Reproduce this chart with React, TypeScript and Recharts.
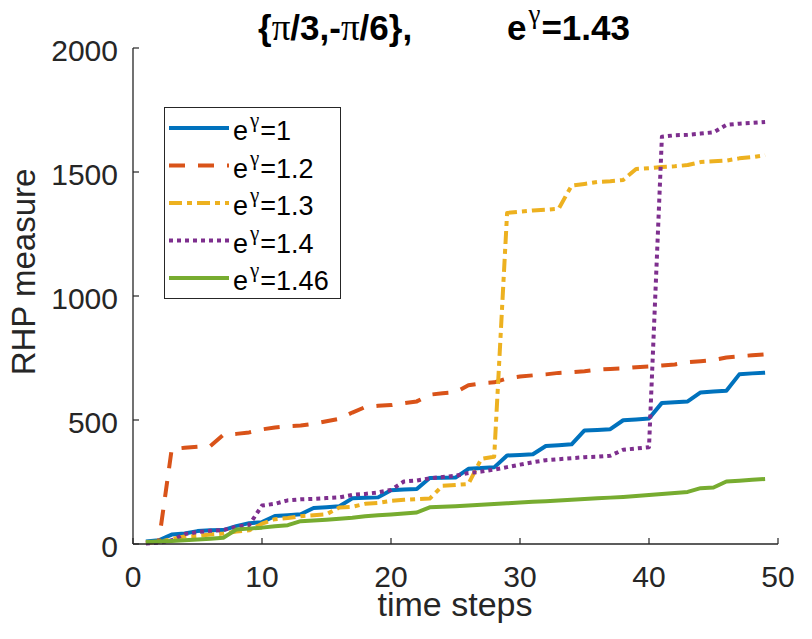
import React from 'react'
import { LineChart, Line, XAxis, YAxis, Legend } from 'recharts'

const steps = [1, 2, 3, 4, 5, 6, 7, 8, 9, 10, 11, 12, 13, 14, 15, 16, 17, 18, 19, 20, 21, 22, 23, 24, 25, 26, 27, 28, 29, 30, 31, 32, 33, 34, 35, 36, 37, 38, 39, 40, 41, 42, 43, 44, 45, 46, 47, 48, 49]

const g100 = [10, 15, 38, 42, 52, 55, 56, 72, 84, 88, 113, 116, 120, 145, 148, 152, 184, 186, 188, 217, 220, 222, 266, 267, 268, 303, 306, 309, 357, 359, 362, 395, 398, 402, 458, 460, 463, 499, 502, 506, 569, 572, 575, 611, 615, 618, 684, 688, 691]
const g120 = [5, 10, 382, 388, 392, 395, 440, 444, 450, 462, 470, 475, 478, 485, 495, 505, 530, 552, 557, 560, 568, 575, 602, 608, 612, 640, 648, 652, 668, 675, 680, 684, 690, 693, 697, 703, 706, 708, 713, 716, 720, 724, 733, 737, 742, 752, 757, 761, 765]
const g130 = [5, 8, 20, 30, 33, 38, 42, 50, 55, 82, 100, 105, 112, 116, 120, 147, 150, 162, 166, 174, 178, 181, 183, 235, 238, 242, 343, 352, 1335, 1340, 1345, 1348, 1352, 1445, 1452, 1460, 1463, 1468, 1512, 1515, 1520, 1523, 1528, 1540, 1543, 1546, 1555, 1560, 1568]
const g140 = [2, 5, 15, 40, 48, 53, 56, 70, 76, 155, 162, 176, 180, 182, 185, 188, 198, 202, 208, 218, 252, 256, 265, 270, 275, 286, 292, 300, 310, 320, 330, 338, 342, 346, 350, 352, 356, 380, 385, 390, 1642, 1648, 1650, 1655, 1660, 1690, 1695, 1698, 1702]
const g146 = [8, 10, 12, 15, 18, 21, 25, 58, 62, 66, 72, 76, 92, 95, 98, 102, 106, 112, 116, 119, 123, 127, 148, 150, 152, 155, 158, 161, 164, 167, 170, 172, 175, 178, 181, 184, 187, 190, 194, 198, 202, 206, 210, 225, 228, 252, 255, 259, 262]

const xTicks = [0, 10, 20, 30, 40, 50]
const yTicks = [0, 500, 1000, 1500, 2000]

const series = [
  { key: 'g100', label: '1', color: '#0072BD', dash: undefined },
  { key: 'g120', label: '1.2', color: '#D95319', dash: '16 13' },
  { key: 'g130', label: '1.3', color: '#EDB120', dash: '13 5 5 5' },
  { key: 'g140', label: '1.4', color: '#7E2F8E', dash: '4 4' },
  { key: 'g146', label: '1.46', color: '#77AC30', dash: undefined },
]

const data = steps.map((t, i) => ({
  t,
  g100: g100[i],
  g120: g120[i],
  g130: g130[i],
  g140: g140[i],
  g146: g146[i],
}))

const axisColor = '#262626'
const sans = '"Liberation Sans", Arial, Helvetica, sans-serif'
const serif = '"Liberation Serif", "Times New Roman", serif'
const TICK = 6

const BottomTick = (props: any) => {
  const { x, y, payload } = props
  return (
    <g>
      <line x1={x} x2={x} y1={y} y2={y - TICK} stroke={axisColor} strokeWidth={1.2} />
      <text x={x} y={y + 43} textAnchor="middle" fontSize={30} fontFamily={sans} fill={axisColor}>
        {payload.value}
      </text>
    </g>
  )
}

const TopTick = (props: any) => {
  const { x, y } = props
  return <line x1={x} x2={x} y1={y} y2={y + TICK} stroke={axisColor} strokeWidth={1.2} />
}

const LeftTick = (props: any) => {
  const { x, y, payload } = props
  return (
    <g>
      <line x1={x} x2={x + TICK} y1={y} y2={y} stroke={axisColor} strokeWidth={1.2} />
      <text x={x - 15} y={y + 13} textAnchor="end" fontSize={30} fontFamily={sans} fill={axisColor}>
        {payload.value}
      </text>
    </g>
  )
}

const RightTick = (props: any) => {
  const { x, y } = props
  return <line x1={x} x2={x - TICK} y1={y} y2={y} stroke={axisColor} strokeWidth={1.2} />
}

const MatlabLegend = () => (
  <svg width={177} height={192} style={{ display: 'block' }}>
    <rect x={0.5} y={0.5} width={176} height={191} fill="#fff" stroke={axisColor} strokeWidth={1} />
    {series.map((s, i) => {
      const cy = 21 + i * 37.5
      return (
        <g key={s.key}>
          <line x1={5} x2={65} y1={cy} y2={cy} stroke={s.color} strokeWidth={4} strokeDasharray={s.dash} />
          <text x={69} y={cy + 12} fontSize={27} fontFamily={sans} fill="#000">
            e
            <tspan dx={2} dy={-13} fontSize={21} fontFamily={serif}>γ</tspan>
            <tspan dx={1} dy={13}>={s.label}</tspan>
          </text>
        </g>
      )
    })}
  </svg>
)

export default function App() {
  return (
    <div style={{ position: 'absolute', left: 0, top: 0, background: '#fff' }}>
      <LineChart width={812} height={639} data={data} margin={{ top: 48, right: 34, bottom: 0, left: 0 }}>
        <XAxis
          xAxisId="b"
          dataKey="t"
          type="number"
          domain={[0, 50]}
          ticks={xTicks}
          interval={0}
          height={95}
          tickSize={0}
          tickMargin={0}
          tickLine={false}
          axisLine={{ stroke: axisColor, strokeWidth: 1.3 }}
          tick={<BottomTick />}
        />
        <XAxis
          xAxisId="t"
          orientation="top"
          dataKey="t"
          type="number"
          domain={[0, 50]}
          ticks={xTicks}
          interval={0}
          height={0}
          tickSize={0}
          tickMargin={0}
          tickLine={false}
          axisLine={{ stroke: axisColor, strokeWidth: 1.3 }}
          tick={<TopTick />}
        />
        <YAxis
          yAxisId="l"
          type="number"
          domain={[0, 2000]}
          ticks={yTicks}
          interval={0}
          width={133}
          tickSize={0}
          tickMargin={0}
          tickLine={false}
          axisLine={{ stroke: axisColor, strokeWidth: 1.3 }}
          tick={<LeftTick />}
        />
        <YAxis
          yAxisId="r"
          orientation="right"
          type="number"
          domain={[0, 2000]}
          ticks={yTicks}
          interval={0}
          width={0}
          tickSize={0}
          tickMargin={0}
          tickLine={false}
          axisLine={{ stroke: axisColor, strokeWidth: 1.3 }}
          tick={<RightTick />}
        />
        {series.map((s) => (
          <Line
            key={s.key}
            xAxisId="b"
            yAxisId="l"
            type="linear"
            dataKey={s.key}
            stroke={s.color}
            strokeWidth={4}
            strokeDasharray={s.dash}
            strokeLinejoin="round"
            dot={false}
            activeDot={false}
            isAnimationActive={false}
          />
        ))}
        <Legend
          layout="vertical"
          align="center"
          verticalAlign="middle"
          wrapperStyle={{ left: 164, top: 107, width: 177, height: 192 }}
          content={() => <MatlabLegend />}
        />
        <text x={258} y={40} fontSize={35} fontWeight="bold" fontFamily={sans} fill="#000">
          {'{'}
          <tspan fontFamily={serif} fontWeight="normal" fontSize={37}>π</tspan>
          {'/3,-'}
          <tspan fontFamily={serif} fontWeight="normal" fontSize={37}>π</tspan>
          {'/6},'}
        </text>
        <text x={507} y={40} fontSize={35} fontWeight="bold" fontFamily={sans} fill="#000">
          e
          <tspan dx={2} dy={-17} fontSize={27} fontFamily={serif} fontWeight="normal">γ</tspan>
          <tspan dx={1} dy={17}>=1.43</tspan>
        </text>
        <text x={455} y={616} textAnchor="middle" fontSize={34} fontFamily={sans} fill={axisColor}>
          time steps
        </text>
        <text
          x={35}
          y={272}
          textAnchor="middle"
          fontSize={33}
          fontFamily={sans}
          fill={axisColor}
          transform="rotate(-90 35 272)"
        >
          RHP measure
        </text>
      </LineChart>
    </div>
  )
}
